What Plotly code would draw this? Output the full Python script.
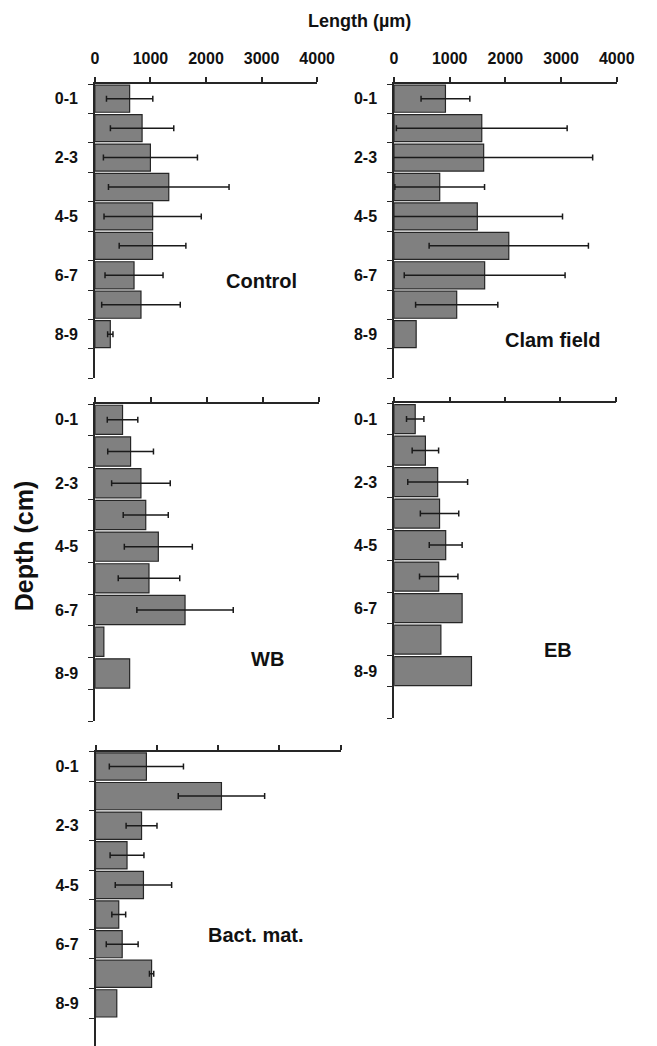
import plotly.graph_objects as go

# ---------------- data ----------------
depths = ["0-1", "1-2", "2-3", "3-4", "4-5", "5-6", "6-7", "7-8", "8-9"]
shown_depth_labels = ["0-1", "2-3", "4-5", "6-7", "8-9"]
x_ticks = [0, 1000, 2000, 3000, 4000]

# error arrays are only as long as the bars that carry an error bar
control_mean = [626, 850, 1000, 1330, 1040, 1038, 705, 830, 278]
control_err = [417, 570, 846, 1085, 875, 600, 522, 707, 48]

clam_mean = [924, 1576, 1610, 821, 1496, 2061, 1628, 1126, 398]
clam_err = [438, 1533, 1957, 805, 1530, 1430, 1444, 738]

wb_mean = [490, 634, 819, 905, 1130, 963, 1608, 156, 617]
wb_err = [273, 409, 524, 403, 608, 550, 862]

eb_mean = [380, 564, 786, 820, 931, 805, 1228, 844, 1397]
eb_err = [157, 239, 541, 347, 297, 347]

bact_mean = [830, 2055, 751, 514, 782, 379, 435, 915, 347]
bact_err = [605, 705, 252, 276, 460, 113, 260, 35]

panel_names = ["Control", "Clam field", "WB", "EB", "Bact. mat."]
panel_means = [control_mean, clam_mean, wb_mean, eb_mean, bact_mean]
panel_errs = [control_err, clam_err, wb_err, eb_err, bact_err]

# ---------------- layout geometry (pixels) ----------------
W, H = 657, 1046
# (left, right, top, bottom, y_range_bottom, show x tick labels)
geom = [
    (94.0, 324.0, 84.0, 378.3, 9.5, True),
    (403.5, 634.0, 84.0, 378.3, 9.5, True),
    (94.3, 325.7, 404.0, 721.0, 9.5, False),
    (403.7, 632.7, 403.3, 718.3, 9.5, False),
    (94.7, 348.3, 751.7, 1046.0, 9.44, False),
]
label_pos = [(266, 281), (568, 340), (273, 659), (573, 650), (261, 935)]

FONT = "Liberation Sans, Arial, Helvetica, sans-serif"
AX = "#262626"

fig = go.Figure()
idx = list(range(len(depths)))
label_idx = [depths.index(d) for d in shown_depth_labels]

layout = dict(
    width=W, height=H,
    margin=dict(l=0, r=0, t=0, b=0),
    paper_bgcolor="white", plot_bgcolor="white",
    showlegend=False,
    font=dict(family=FONT, color="#111111"),
    annotations=[],
)

for i, (name, means, errs) in enumerate(zip(panel_names, panel_means, panel_errs)):
    n = "" if i == 0 else str(i + 1)
    fig.add_trace(go.Bar(
        x=means, y=idx, orientation="h",
        width=0.92,
        marker=dict(color="#808080", line=dict(color="#262626", width=1.2)),
        error_x=dict(type="data", array=errs, visible=True,
                     color="#1a1a1a", thickness=1.5, width=3),
        xaxis="x" + n, yaxis="y" + n,
    ))
    l, r, t, b, yb, showx = geom[i]
    layout["xaxis" + n] = dict(
        domain=[l / W, r / W], anchor="y" + n, side="top",
        range=[0, 4000], tickmode="array", tickvals=x_ticks,
        ticktext=[str(v) for v in x_ticks] if showx else [""] * len(x_ticks),
        showticklabels=True,
        ticks="outside", ticklen=5, tickwidth=1.5, tickcolor=AX,
        showline=True, linecolor=AX, linewidth=1.5,
        showgrid=False, zeroline=False, fixedrange=True,
        tickfont=dict(family=FONT, size=16, color="#111111", weight="bold"),
        ticklabelstandoff=7,
    )
    layout["yaxis" + n] = dict(
        domain=[1 - b / H, 1 - t / H], anchor="x" + n,
        range=[yb, -0.5],
        tickmode="array", tickvals=label_idx, ticktext=shown_depth_labels,
        ticks="", ticklabelstandoff=12,
        minor=dict(tickmode="array",
                   tickvals=[k - 0.5 for k in range(len(depths) + 2)],
                   ticks="outside", ticklen=5, tickwidth=1.2, tickcolor=AX),
        showline=True, linecolor=AX, linewidth=1.5,
        showgrid=False, zeroline=False, fixedrange=True,
        tickfont=dict(family=FONT, size=16, color="#111111", weight="bold"),
    )
    lx, ly = label_pos[i]
    layout["annotations"].append(dict(
        text=name, x=lx / W, y=1 - ly / H, xref="paper", yref="paper",
        xanchor="center", yanchor="middle", showarrow=False,
        font=dict(family=FONT, size=20, color="#111111", weight="bold"),
    ))

layout["annotations"].append(dict(
    text="Length (µm)", x=368 / W, y=1 - 21 / H, xref="paper", yref="paper",
    xanchor="center", yanchor="middle", showarrow=False,
    font=dict(family=FONT, size=18, color="#111111", weight="bold"),
))
layout["annotations"].append(dict(
    text="Depth (cm)", x=21 / W, y=1 - 546 / H, xref="paper", yref="paper",
    xanchor="center", yanchor="middle", showarrow=False, textangle=-90,
    font=dict(family=FONT, size=25, color="#111111", weight="bold"),
))

fig.update_layout(**layout)
fig.write_html("out.html")
